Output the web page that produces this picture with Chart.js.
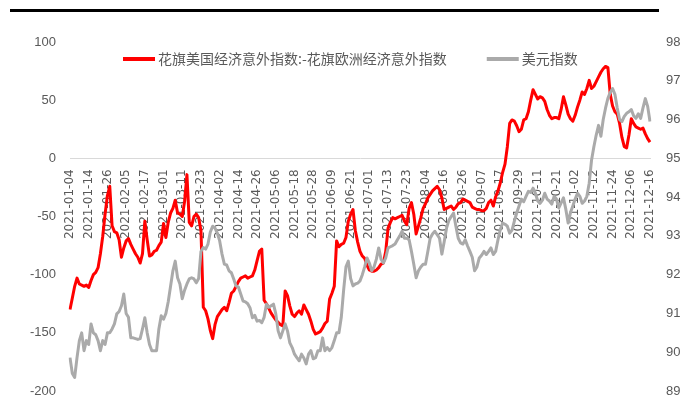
<!DOCTYPE html>
<html>
<head>
<meta charset="utf-8">
<script src="https://cdn.jsdelivr.net/npm/chart.js@4.4.1/dist/chart.umd.min.js"></script>
<style>
  html, body { margin: 0; padding: 0; background: #ffffff; }
  #wrap { position: relative; width: 689px; height: 420px; overflow: hidden; }
  #rule { position: absolute; left: 10px; top: 9px; width: 649px; height: 3px; background: #000000; }
  #c { position: absolute; left: 0; top: 0; }
</style>
</head>
<body>
<div id="wrap">
  <canvas id="c" width="689" height="420"></canvas>
  <div id="rule"></div>
</div>
<script>
// Trading days run from the first to the last date below (weekdays only).
const firstDay = '2021-01-04';
const lastDay = '2021-12-16';

// Dates printed under the zero line.
const tickDates = [
  '2021-01-04','2021-01-14','2021-01-26','2021-02-05','2021-02-17','2021-03-01','2021-03-11','2021-03-23',
  '2021-04-02','2021-04-14','2021-04-26','2021-05-06','2021-05-18','2021-05-28','2021-06-09','2021-06-21',
  '2021-07-01','2021-07-13','2021-07-23','2021-08-04','2021-08-16','2021-08-26','2021-09-07','2021-09-17',
  '2021-09-29','2021-10-11','2021-10-21','2021-11-02','2021-11-12','2021-11-24','2021-12-06','2021-12-16'
];

const seriesNames = ['花旗美国经济意外指数:-花旗欧洲经济意外指数', '美元指数'];

// Citi US surprise index minus Citi Euro-area surprise index (left axis).
const surpriseGap = [
  -130,-120,-110,-103,-108,-109,-110,-109,
  -111,-105,-100,-98,-94,-82,-67,-48,
  -32,-24,-58,-63,-64,-70,-85,-77,
  -71,-69,-74,-78,-82,-85,-90,-82,
  -54,-70,-84,-83,-80,-79,-75,-72,
  -56,-68,-55,-47,-43,-36,-47,-48,
  -50,-37,-14,-55,-58,-50,-48,-51,
  -62,-128,-131,-138,-148,-155,-143,-136,
  -133,-130,-128,-131,-124,-116,-114,-110,
  -106,-103,-102,-101,-103,-102,-101,-96,
  -88,-80,-78,-122,-125,-129,-133,-136,
  -139,-141,-143,-144,-114,-118,-127,-134,
  -136,-133,-131,-134,-126,-130,-134,-140,
  -147,-151,-150,-149,-146,-142,-140,-121,
  -116,-110,-71,-76,-74,-73,-68,-54,
  -48,-44,-62,-72,-80,-84,-86,-92,
  -96,-97,-97,-96,-94,-91,-90,-80,
  -60,-55,-51,-52,-51,-50,-49,-54,
  -57,-43,-38,-48,-65,-58,-51,-43,
  -39,-34,-31,-28,-26,-24,-27,-34,
  -44,-43,-42,-41,-44,-42,-39,-38,
  -35,-36,-37,-38,-42,-43,-44,-44,
  -45,-45,-43,-38,-36,-41,-33,-28,
  -21,-12,-5,10,30,33,32,28,
  23,25,33,34,40,50,59,55,
  51,53,52,49,42,37,34,35,
  35,34,42,53,46,38,34,32,
  37,44,50,57,55,60,67,60,
  62,66,70,74,77,79,78,55,
  45,40,38,30,18,10,9,20,
  34,30,27,26,25,26,21,17,
  14
];

// US dollar index (right axis).
const dollarIndex = [
  89.86,89.45,89.35,89.86,90.3,90.5,90.04,90.3,
  90.2,90.73,90.5,90.45,90.3,90.04,90.3,90.2,
  90.5,90.5,90.6,90.73,90.99,91.05,91.2,91.5,
  91.0,90.9,90.37,90.37,90.35,90.33,90.35,90.6,
  90.89,90.5,90.2,90.04,90.04,90.04,90.6,90.94,
  90.85,91.0,91.3,91.7,92.1,92.35,91.92,91.76,
  91.38,91.6,91.76,91.89,91.92,91.89,91.79,91.9,
  92.6,92.7,92.66,92.79,93.1,93.25,93.2,93.07,
  92.87,92.53,92.27,92.25,92.1,92.05,91.89,91.71,
  91.68,91.5,91.32,91.3,91.25,91.14,90.89,90.95,
  90.8,90.82,90.76,90.9,91.24,91.16,91.2,91.24,
  90.99,90.55,90.37,90.55,90.73,90.55,90.24,90.12,
  89.95,89.86,89.78,89.95,89.85,89.7,89.95,90.04,
  89.83,89.86,90.04,90.04,90.37,90.04,90.12,90.04,
  90.12,90.3,90.5,90.5,90.9,91.6,92.2,92.35,
  91.9,91.71,91.76,91.78,91.84,92.0,92.2,92.43,
  92.3,92.1,92.2,92.4,92.69,92.4,92.3,92.43,
  92.69,92.72,92.75,92.79,92.9,93.0,93.12,92.94,
  92.94,92.9,92.6,92.27,91.92,92.1,92.2,92.27,
  92.27,92.6,92.94,93.05,93.12,93.03,92.94,92.53,
  92.85,93.2,93.4,93.5,93.59,93.25,92.94,92.82,
  92.79,92.9,92.74,92.6,92.45,92.1,92.2,92.43,
  92.5,92.6,92.52,92.6,92.69,92.52,92.6,92.9,
  93.17,93.33,93.3,93.25,93.07,93.15,93.38,93.59,
  93.77,93.95,93.88,94.02,94.15,94.12,94.23,94.1,
  93.9,93.84,93.92,94.1,93.95,93.9,93.82,94.02,
  93.95,93.72,93.85,93.98,93.69,93.33,93.6,93.77,
  93.95,94.1,94.02,93.84,93.9,94.02,94.36,94.95,
  95.3,95.6,95.85,95.57,96.0,96.3,96.55,96.7,
  96.8,96.65,96.3,96.0,95.95,96.08,96.16,96.2,
  96.26,96.1,96.03,96.15,96.03,96.3,96.54,96.34,
  95.95
];

// Axis ranges: [min, max, step]
const leftAxis = [-200, 100, 50];
const rightAxis = [89, 98, 1];

const seriesColors = ['#ff0000', '#aaaaaa'];

// Build the weekday calendar between the two dates.
function weekdays(from, to) {
  const out = [];
  const d = new Date(from + 'T00:00:00Z');
  const end = new Date(to + 'T00:00:00Z');
  while (d <= end) {
    const wd = d.getUTCDay();
    if (wd !== 0 && wd !== 6) out.push(d.toISOString().slice(0, 10));
    d.setUTCDate(d.getUTCDate() + 1);
  }
  return out;
}
const days = weekdays(firstDay, lastDay);

// Legend drawn inside the plot, near its top edge.
const inlineLegend = {
  id: 'inlineLegend',
  afterDraw(chart) {
    const ctx = chart.ctx;
    const area = chart.chartArea;
    ctx.save();
    ctx.font = '14px "Noto Sans CJK SC"';
    ctx.textBaseline = 'middle';
    ctx.textAlign = 'left';
    const y = area.top + 17;
    let x = area.left + 53;
    chart.data.datasets.forEach((ds, i) => {
      ctx.fillStyle = ds.borderColor;
      ctx.fillRect(x, y - 2, 32, 4);
      x += 35;
      ctx.fillStyle = '#595959';
      ctx.fillText(ds.label, x, y);
      x += ctx.measureText(ds.label).width + 40;
    });
    ctx.restore();
  }
};

new Chart(document.getElementById('c'), {
  type: 'line',
  data: {
    labels: days,
    datasets: [
      {
        label: seriesNames[0],
        data: surpriseGap,
        yAxisID: 'y',
        borderColor: seriesColors[0],
        borderWidth: 3,
        pointRadius: 0,
        tension: 0,
        borderJoinStyle: 'round',
        order: 1
      },
      {
        label: seriesNames[1],
        data: dollarIndex,
        yAxisID: 'y2',
        borderColor: seriesColors[1],
        borderWidth: 3,
        pointRadius: 0,
        tension: 0,
        borderJoinStyle: 'round',
        order: 0
      }
    ]
  },
  options: {
    responsive: false,
    animation: false,
    devicePixelRatio: 1,
    layout: { padding: { top: 42, bottom: 29, left: 0, right: 0 } },
    plugins: { legend: { display: false }, tooltip: { enabled: false } },
    scales: {
      x: {
        type: 'category',
        position: { y: 0 },
        offset: false,
        grid: { display: false, drawTicks: false },
        border: { display: true, color: '#d9d9d9', width: 1 },
        ticks: {
          autoSkip: false,
          minRotation: 90,
          maxRotation: 90,
          padding: 11,
          color: '#595959',
          font: { family: 'DejaVu Sans', size: 12 },
          callback(value) {
            const d = this.getLabelForValue(value);
            return tickDates.includes(d) ? d : '';
          }
        }
      },
      y: {
        position: 'left',
        min: leftAxis[0],
        max: leftAxis[1],
        grid: { display: false, drawTicks: false },
        border: { display: false },
        ticks: {
          stepSize: leftAxis[2],
          padding: 14,
          color: '#595959',
          font: { family: 'Liberation Sans', size: 13 }
        },
        afterFit(scale) { scale.width = 70; }
      },
      y2: {
        position: 'right',
        min: rightAxis[0],
        max: rightAxis[1],
        grid: { display: false, drawTicks: false },
        border: { display: false },
        ticks: {
          stepSize: rightAxis[2],
          padding: 16,
          color: '#595959',
          font: { family: 'Liberation Sans', size: 13 }
        },
        afterFit(scale) { scale.width = 39; }
      }
    }
  },
  plugins: [inlineLegend]
});
</script>
</body>
</html>
